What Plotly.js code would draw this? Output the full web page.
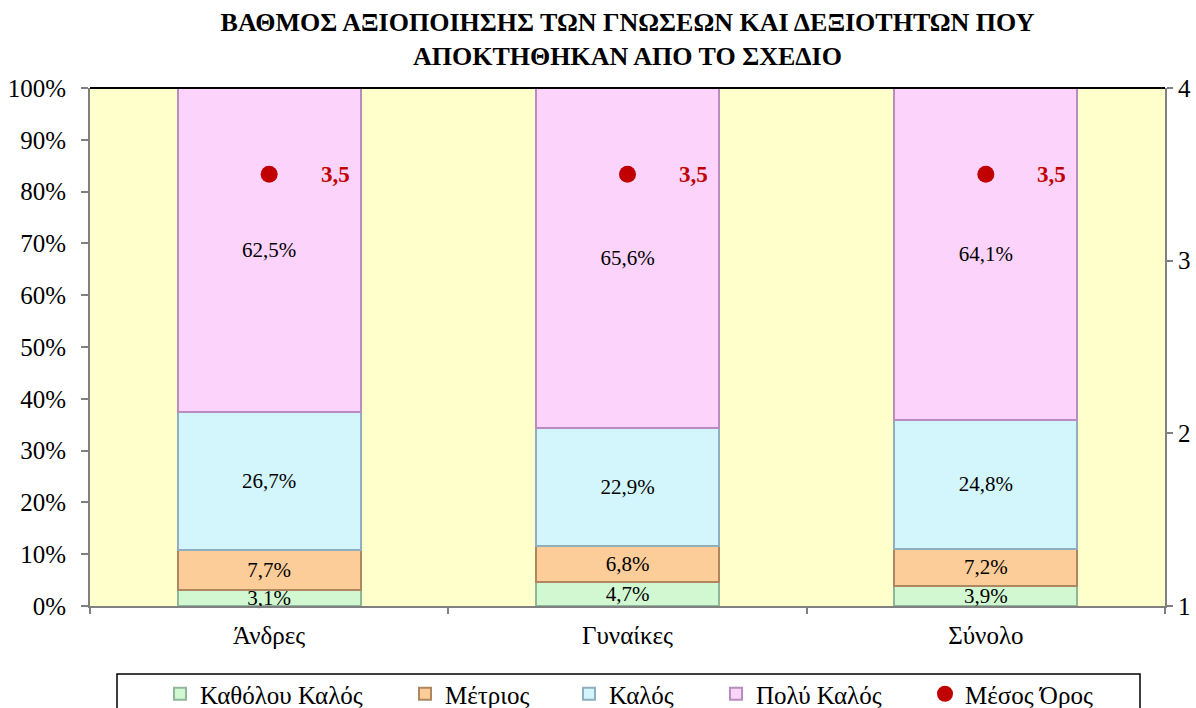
<!DOCTYPE html>
<html>
<head>
<meta charset="utf-8">
<script src="https://cdn.plot.ly/plotly-3.0.1.min.js"></script>
<style>html,body{margin:0;padding:0;background:#fff;}#chart{width:1196px;height:708px;}</style>
</head>
<body>
<div id="chart"></div>
<script>
const categories = ['Άνδρες', 'Γυναίκες', 'Σύνολο'];
const seriesNames = ['Καθόλου Καλός', 'Μέτριος', 'Καλός', 'Πολύ Καλός'];
const katholou = [3.1, 4.7, 3.9];
const metrios = [7.7, 6.8, 7.2];
const kalos = [26.7, 22.9, 24.8];
const polyKalos = [62.5, 65.6, 64.1];
const mesosOros = [3.5, 3.5, 3.5];
const meanName = 'Μέσος Όρος';
const percentTicks = [0, 10, 20, 30, 40, 50, 60, 70, 80, 90, 100];

const serif = 'Liberation Serif, Times New Roman, serif';
const colors = ['#D2F8D2', '#FCCC99', '#D2F6FB', '#FBD3FB'];
const edges = ['#8FB79A', '#B08660', '#8FAFC0', '#B98DC0'];
const fmt = v => v.toFixed(1).replace('.', ',');

// legend symbol centre positions (pixels) of the reference legend
const legendPx = [180, 425, 589, 736, 945];
const plotL = 90, plotR = 1165, plotT = 88, plotB = 606;
const pw = plotR - plotL, ph = plotB - plotT;
const legendNames = ['legend', 'legend2', 'legend3', 'legend4', 'legend5'];

const seriesValues = [katholou, metrios, kalos, polyKalos];
const traces = seriesValues.map((vals, i) => ({
  type: 'bar',
  name: seriesNames[i],
  legend: legendNames[i],
  x: categories,
  y: vals,
  text: vals.map(v => fmt(v) + '%'),
  textposition: 'inside',
  insidetextanchor: 'middle',
  constraintext: 'none',
  textangle: 0,
  textfont: {family: serif, size: 21, color: '#000'},
  marker: {color: colors[i], line: {color: edges[i], width: 2}},
  cliponaxis: false,
  hoverinfo: 'skip'
}));

traces.push({
  type: 'scatter',
  mode: 'markers',
  name: meanName,
  legend: legendNames[4],
  x: categories,
  y: mesosOros,
  yaxis: 'y2',
  marker: {color: '#C00000', size: 17},
  hoverinfo: 'skip'
});

const annotations = categories.map((c, i) => ({
  x: c, y: mesosOros[i], xref: 'x', yref: 'y2',
  text: '<b>' + fmt(mesosOros[i]) + '</b>',
  showarrow: false, xshift: 66,
  font: {family: serif, size: 23, color: '#C00000'}
}));

const layout = {
  width: 1196, height: 708,
  margin: {l: plotL, r: 1196 - plotR, t: plotT, b: 708 - plotB, autoexpand: false},
  paper_bgcolor: '#ffffff',
  plot_bgcolor: '#FFFFCC',
  barmode: 'stack',
  bargap: 0.49,
  showlegend: true,
  title: {
    text: '<b>ΒΑΘΜΟΣ ΑΞΙΟΠΟΙΗΣΗΣ ΤΩΝ ΓΝΩΣΕΩΝ ΚΑΙ ΔΕΞΙΟΤΗΤΩΝ ΠΟΥ<br>ΑΠΟΚΤΗΘΗΚΑΝ ΑΠΟ ΤΟ ΣΧΕΔΙΟ</b>',
    font: {family: serif, size: 26, color: '#000'},
    x: 0.5, xref: 'paper', xanchor: 'center',
    y: 1 - 31 / 708, yref: 'container', yanchor: 'middle'
  },
  xaxis: {
    type: 'category',
    tickson: 'boundaries',
    ticks: 'outside', ticklen: 6, tickcolor: '#808080', tickwidth: 2,
    ticklabelstandoff: 6,
    showline: true, linecolor: '#808080', linewidth: 2,
    showgrid: false, zeroline: false,
    tickfont: {family: serif, size: 25, color: '#000'}
  },
  yaxis: {
    range: [0, 100],
    tickvals: percentTicks,
    ticktext: percentTicks.map(v => v + '%'),
    ticks: 'outside', ticklen: 7, tickcolor: '#808080', tickwidth: 2,
    ticklabelstandoff: 10,
    showline: true, linecolor: '#808080', linewidth: 2,
    showgrid: false, zeroline: false,
    tickfont: {family: serif, size: 25, color: '#000'}
  },
  yaxis2: {
    overlaying: 'y', side: 'right',
    range: [1, 4], dtick: 1, tick0: 1,
    ticks: 'outside', ticklen: 6, tickcolor: '#808080', tickwidth: 2,
    showline: true, linecolor: '#808080', linewidth: 2,
    showgrid: false, zeroline: false,
    tickfont: {family: serif, size: 25, color: '#000'}
  },
  shapes: [
    {type: 'line', xref: 'paper', yref: 'paper', x0: 0, x1: 1, y0: 1, y1: 1, line: {color: '#000', width: 2}},
    {type: 'rect', xref: 'paper', yref: 'paper',
     x0: (117 - plotL) / pw, x1: (1140 - plotL) / pw,
     y0: -(674 - plotB) / ph, y1: -(730 - plotB) / ph,
     line: {color: '#000', width: 1.5}, fillcolor: 'rgba(0,0,0,0)'}
  ],
  annotations: annotations
};

legendNames.forEach((ln, i) => {
  layout[ln] = {
    orientation: 'h',
    x: (legendPx[i] - 20 - plotL) / pw, xanchor: 'left',
    y: -(694 - plotB) / ph, yanchor: 'middle',
    borderwidth: 0,
    bgcolor: 'rgba(0,0,0,0)',
    font: {family: serif, size: 25, color: '#000'}
  };
});

Plotly.newPlot('chart', traces, layout, {displayModeBar: false, staticPlot: true});
</script>
</body>
</html>
